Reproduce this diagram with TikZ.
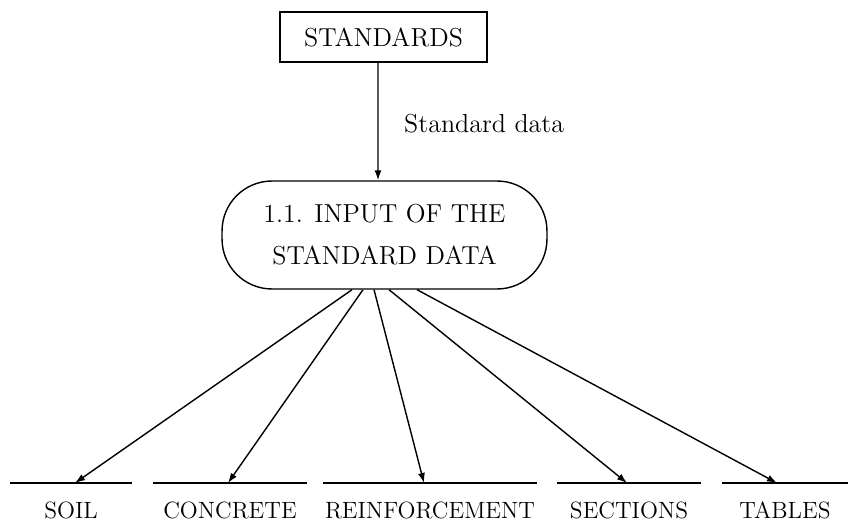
\documentclass[tikz,border=0pt]{standalone}
\usepackage{tikz}
\usetikzlibrary{positioning,arrows.meta}

\begin{document}
\begin{tikzpicture}[
    x=0.02cm, y=-0.02cm,
    >={Latex[length=2mm,width=1.4mm]},
    module/.style={draw, thick, rectangle, minimum width=4.14cm, minimum height=1.0cm,
      font=\fontsize{14.8}{18}\selectfont},
    block/.style={draw, thick, rounded corners=1cm, minimum width=6.5cm, minimum height=2.16cm,
      align=center, font=\fontsize{14.8}{23.9}\selectfont},
    store/.style={anchor=north, inner xsep=0pt, inner ysep=0.34cm, text height=0.36cm, text depth=0pt,
      font=\fontsize{13.4}{16}\selectfont,
      append after command={(\tikzlastnode.north west) edge[thick] (\tikzlastnode.north east)}},
    flow/.style={->, thick, shorten >=0pt}
]

\path[use as bounding box] (0,0) rectangle (848,530);

\node[module] (standards) at (383.5,37) {STANDARDS};
\node[block] (input) at (384.5,235) {1.1. INPUT OF THE\\STANDARD DATA};

\node[anchor=base west, font=\fontsize{14.8}{18}\selectfont] (sdata) at (398,133) {Standard data};

% data stores
\node[store, minimum width=2.44cm] (soil) at (71,483) {SOIL};
\node[store, minimum width=3.08cm] (concrete) at (230,483) {CONCRETE};
\node[store, minimum width=4.28cm] (reinf) at (430,483) {REINFORCEMENT};
\node[store, minimum width=2.88cm] (sections) at (629,483) {SECTIONS};
\node[store, minimum width=2.52cm] (tables) at (785,483) {TABLES};

% flows
\draw[flow] ([xshift=-0.11cm]standards.south) -- ([xshift=-0.13cm]input.north);
\draw[flow] ([xshift=-0.65cm]input.south) -- ([xshift=0.08cm]soil.north);
\draw[flow] ([xshift=-0.43cm]input.south) -- ([xshift=-0.04cm]concrete.north);
\draw[flow] ([xshift=-0.21cm]input.south) -- ([xshift=-0.12cm]reinf.north);
\draw[flow] ([xshift=0.09cm]input.south) -- ([xshift=-0.04cm]sections.north);
\draw[flow] ([xshift=0.65cm]input.south) -- ([xshift=-0.16cm]tables.north);

\end{tikzpicture}
\end{document}
